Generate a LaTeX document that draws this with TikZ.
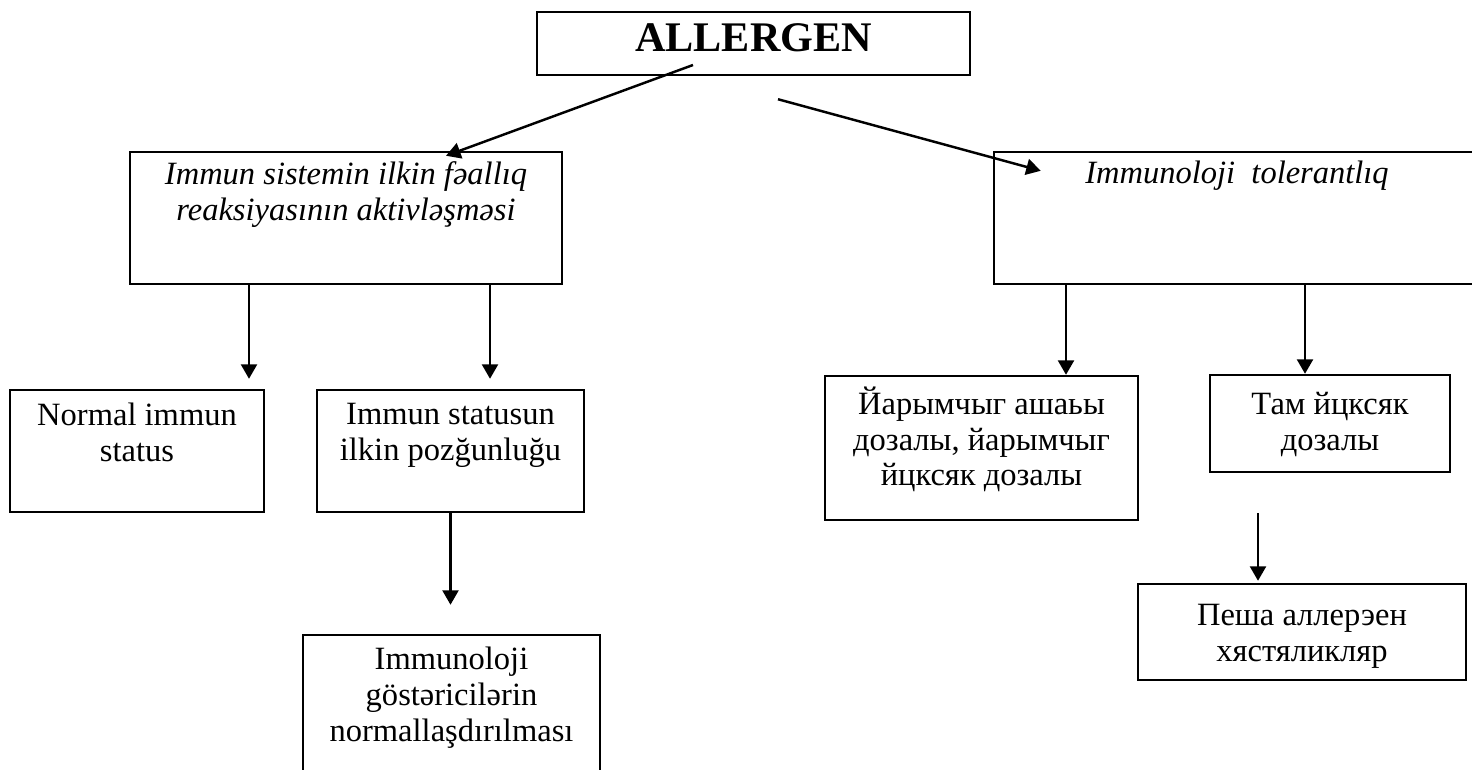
\documentclass[tikz,border=0pt]{standalone}
\usepackage{fontspec}
\setmainfont{Liberation Serif}
\usetikzlibrary{positioning,arrows.meta}
\newcommand{\bodyfont}{\fontsize{18.5}{20.4}\selectfont}

\begin{document}
\begin{tikzpicture}[
    box/.style={draw, line width=1.4pt},
    txt/.style={inner sep=0pt, align=center, font=\bodyfont},
    arr/.style={line width=1.4pt, -{Triangle[width=0.32cm, length=0.29cm]}}
]
    \useasboundingbox (0,0) rectangle (29.44,-15.38);
    \clip (0,0) rectangle (29.44,-15.38);

    % --- Top ---
    \node[box, minimum width=8.66cm, minimum height=1.26cm, inner sep=0pt, text depth=0.22cm,
          font=\fontsize{24}{28}\selectfont\bfseries] (allergen) at (15.07,-0.87) {ALLERGEN};

    % --- Left branch ---
    \node[box, minimum width=8.64cm, minimum height=2.64cm] (aktiv) at (6.92,-4.36) {};
    \node[txt, font=\bodyfont\itshape, below=0.21cm of aktiv.north] (aktivt) {Immun sistemin ilkin fəallıq\\reaksiyasının aktivləşməsi};
    \node[box, minimum width=5.08cm, minimum height=2.44cm] (normal) at (2.74,-9.02) {};
    \node[txt, below=0.28cm of normal.north] (normalt) {Normal immun\\status};
    \node[box, minimum width=5.34cm, minimum height=2.44cm] (pozgun) at (9.01,-9.02) {};
    \node[txt, below=0.28cm of pozgun.north] (pozgunt) {Immun statusun\\ilkin pozğunluğu};
    \node[box, minimum width=5.94cm, minimum height=2.90cm] (normall) at (9.03,-14.15) {};
    \node[txt, below=0.26cm of normall.north] (normallt) {Immunoloji\\göstəricilərin\\normallaşdırılması};

    % --- Right branch ---
    \node[box, minimum width=9.72cm, minimum height=2.64cm] (toler) at (24.74,-4.36) {};
    \node[txt, font=\bodyfont\itshape, below=0.19cm of toler.north] (tolert) {Immunoloji\ \ tolerantlıq};
    \node[box, minimum width=6.26cm, minimum height=2.88cm] (yarim) at (19.63,-8.96) {};
    \node[txt, below=0.23cm of yarim.north] (yarimt) {Йарымчыг ашаьы\\дозалы, йарымчыг\\йцксяк дозалы};
    \node[box, minimum width=4.80cm, minimum height=1.94cm] (tam) at (26.60,-8.47) {};
    \node[txt, below=0.37cm of tam.north] (tamt) {Там йцксяк\\дозалы};
    \node[box, minimum width=6.56cm, minimum height=1.92cm] (pesha) at (26.04,-12.64) {};
    \node[txt, below=0.42cm of pesha.north] (peshat) {Пеша аллерэен\\хястяликляр};

    % --- Arrows ---
    \draw[arr] ([shift={(-1.21,-0.43)}]allergen.center) -- ([shift={(2.0,-0.10)}]aktiv.north);
    \draw[arr] ([shift={(0.49,-0.46)}]allergen.south) -- ([shift={(0.96,-0.40)}]toler.north west);
    \draw[arr, shorten >=0.2cm] ([xshift=-1.94cm]aktiv.south) -- ([xshift=-1.94cm]aktiv.south |- normal.north);
    \draw[arr, shorten >=0.2cm] ([xshift=2.88cm]aktiv.south) -- ([xshift=2.88cm]aktiv.south |- pozgun.north);
    \draw[arr, shorten >=0.58cm] (pozgun.south) -- (pozgun.south |- normall.north);
    \draw[arr] ([xshift=-3.42cm]toler.south) -- ([xshift=-3.42cm]toler.south |- yarim.north);
    \draw[arr] ([xshift=1.36cm]toler.south) -- ([xshift=1.36cm]toler.south |- tam.north);
    \draw[arr, shorten <=0.8cm, shorten >=0.04cm] ([xshift=-1.44cm]tam.south) -- ([xshift=-1.44cm]tam.south |- pesha.north);
\end{tikzpicture}
\end{document}
